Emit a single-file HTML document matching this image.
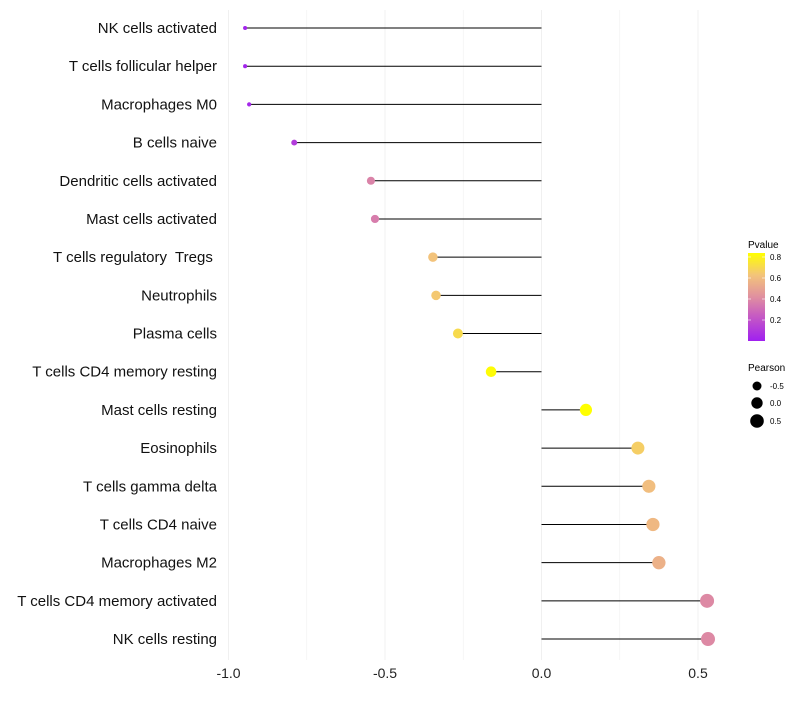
<!DOCTYPE html>
<html><head><meta charset="utf-8"><style>
body{margin:0;background:#fff;font-family:"Liberation Sans",sans-serif}
svg text{font-family:"Liberation Sans",sans-serif;white-space:pre}
</style></head><body>
<svg id="chart" width="800" height="700">
<defs><linearGradient id="pg" x1="0" y1="1" x2="0" y2="0">
<stop offset="0" stop-color="#a020f0"/><stop offset="0.3" stop-color="#c85ec0"/><stop offset="0.5" stop-color="#e08fa0"/><stop offset="0.75" stop-color="#f3c47a"/><stop offset="1" stop-color="#ffff00"/></linearGradient></defs>
<g id="grid"></g>
<g id="marks"></g>
<g id="ylab"></g>
<g id="xlab"></g>
<g>
<text x="748" y="248" font-size="10">Pvalue</text>
<rect x="748" y="253" width="17" height="88" fill="url(#pg)"/>
<line x1="748" x2="751" y1="257" y2="257" stroke="#fff" opacity="0.6"/><line x1="762" x2="765" y1="257" y2="257" stroke="#fff" opacity="0.6"/>
<line x1="748" x2="751" y1="278" y2="278" stroke="#fff" opacity="0.6"/><line x1="762" x2="765" y1="278" y2="278" stroke="#fff" opacity="0.6"/>
<line x1="748" x2="751" y1="299" y2="299" stroke="#fff" opacity="0.6"/><line x1="762" x2="765" y1="299" y2="299" stroke="#fff" opacity="0.6"/>
<line x1="748" x2="751" y1="320" y2="320" stroke="#fff" opacity="0.6"/><line x1="762" x2="765" y1="320" y2="320" stroke="#fff" opacity="0.6"/>
<text x="770" y="260" font-size="8">0.8</text>
<text x="770" y="281" font-size="8">0.6</text>
<text x="770" y="302" font-size="8">0.4</text>
<text x="770" y="323" font-size="8">0.2</text>
</g>
<g>
<text x="748" y="371" font-size="10">Pearson</text>
<circle cx="757" cy="386" r="4.5"/><text x="770" y="389" font-size="8">-0.5</text>
<circle cx="757" cy="403" r="5.7"/><text x="770" y="406" font-size="8">0.0</text>
<circle cx="757" cy="421" r="6.8"/><text x="770" y="424" font-size="8">0.5</text>
</g>
</svg>
<script>
const categories=["NK cells activated","T cells follicular helper","Macrophages M0","B cells naive","Dendritic cells activated","Mast cells activated","T cells regulatory  Tregs ","Neutrophils","Plasma cells","T cells CD4 memory resting","Mast cells resting","Eosinophils","T cells gamma delta","T cells CD4 naive","Macrophages M2","T cells CD4 memory activated","NK cells resting"];
const pearson=[-0.947,-0.947,-0.934,-0.79,-0.545,-0.532,-0.347,-0.337,-0.267,-0.161,0.142,0.308,0.343,0.356,0.375,0.529,0.532];
const pvalue=[0.03,0.03,0.04,0.12,0.38,0.36,0.62,0.64,0.7,0.82,0.83,0.66,0.6,0.58,0.55,0.4,0.4];
const xTicks=[-1.0,-0.5,0.0,0.5];
const xTickLabels=["-1.0","-0.5","0.0","0.5"];
const gridMinor=[-0.75,-0.25,0.25];
const NS="http://www.w3.org/2000/svg";
const x=v=>541.5+v*313;
const y=i=>28+i*38.19;
const r=v=>Math.sqrt(4+30.4*Math.max(0,v+0.95));
const stops=[[0,[160,32,240]],[0.3,[200,94,192]],[0.5,[224,143,160]],[0.75,[243,196,122]],[1,[255,255,0]]];
function col(p){let t=Math.max(0,Math.min(1,(p-0.01)/0.82));for(let k=1;k<stops.length;k++){if(t<=stops[k][0]){const a=stops[k-1],b=stops[k],f=(t-a[0])/(b[0]-a[0]);return "rgb("+a[1].map((c,j)=>Math.round(c+(b[1][j]-c)*f)).join(",")+")";}}return "rgb(255,255,0)";}
function mk(tag,attrs,parent){const e=document.createElementNS(NS,tag);for(const k in attrs)e.setAttribute(k,attrs[k]);document.getElementById(parent).appendChild(e);return e;}
xTicks.concat(gridMinor).forEach(v=>{const l=mk("line",{x1:x(v),x2:x(v),y1:10,y2:660,stroke:"#f0f0f0","stroke-width":xTicks.includes(v)?1:0.6},"grid");

});
xTicks.forEach((v,i)=>{const t=mk("text",{x:x(v),y:678,"font-size":14,"text-anchor":"middle",fill:"#222"},"xlab");t.textContent=xTickLabels[i];

});
categories.forEach((c,i)=>{
const t=mk("text",{x:217,y:y(i)+5,"font-size":15,"text-anchor":"end",fill:"#111"},"ylab");t.textContent=c;


const l=mk("line",{x1:x(0),x2:x(pearson[i]),y1:y(i),y2:y(i),stroke:"#000","stroke-width":1},"marks");


const d=mk("circle",{cx:x(pearson[i]),cy:y(i),r:r(pearson[i]),fill:col(pvalue[i])},"marks");


});
</script>
</body></html>
